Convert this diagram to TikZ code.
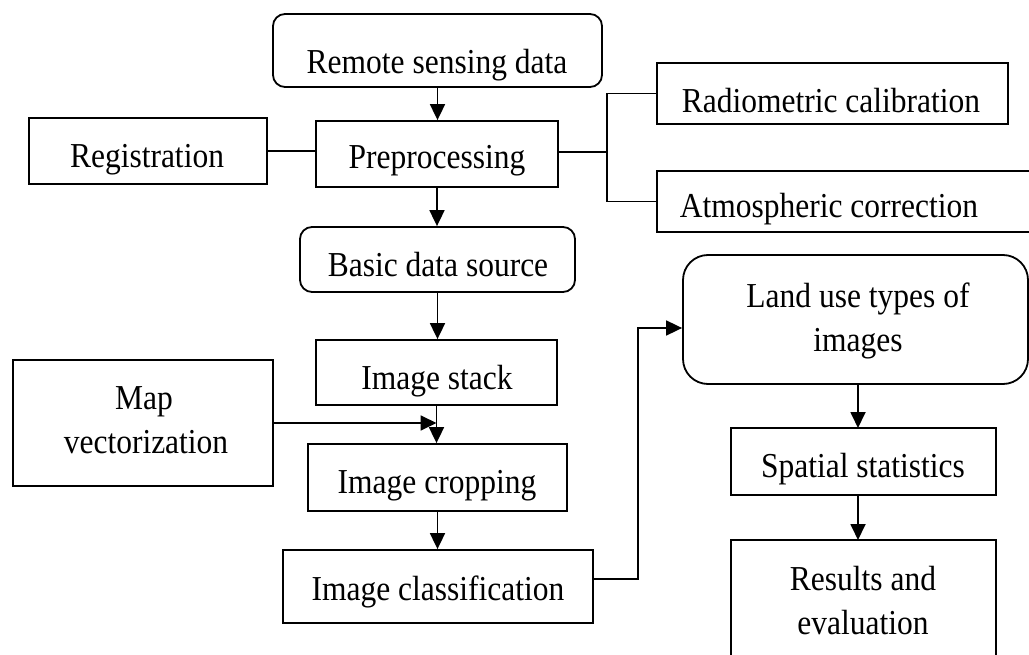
\documentclass[tikz,border=0pt]{standalone}
\usepackage{fontspec}
\setmainfont{Liberation Serif}[FakeStretch=0.9]
\usetikzlibrary{arrows.meta}
\begin{document}
\begin{tikzpicture}[x=1pt,y=-1pt,
  box/.style={draw, line width=1.8pt, inner sep=0pt},
  rbox/.style={box, rounded corners=12pt},
  txt/.style={anchor=base, inner sep=0pt, font=\fontsize{35}{40}\selectfont},
  arr/.style={line width=1.8pt, -{Triangle[length=16pt,width=15pt]}},
  con/.style={line width=1.8pt}]
\useasboundingbox (0,0) rectangle (1029,655);
\begin{scope}
\clip (0,0) rectangle (1029,655);
% boxes
\node[rbox, minimum width=329pt, minimum height=73pt] (rs) at (437.5,50.5) {};
\node[box, minimum width=242pt, minimum height=66pt] (pre) at (437,154) {};
\node[box, minimum width=238pt, minimum height=66pt] (reg) at (148,151) {};
\node[box, minimum width=351pt, minimum height=61pt] (rad) at (832.5,93.5) {};
\node[box, minimum width=403pt, minimum height=61pt] (atm) at (858.5,201.5) {};
\node[rbox, minimum width=275pt, minimum height=65pt] (bds) at (437.5,259.5) {};
\node[box, minimum width=241pt, minimum height=65pt] (stack) at (436.5,372.5) {};
\node[box, minimum width=260pt, minimum height=126pt] (map) at (143,423) {};
\node[box, minimum width=259pt, minimum height=67pt] (crop) at (437.5,477.5) {};
\node[box, minimum width=310pt, minimum height=73pt] (cls) at (438,586.5) {};
\node[box, rounded corners=25pt, minimum width=345pt, minimum height=129pt] (land) at (855.5,319.5) {};
\node[box, minimum width=265pt, minimum height=67pt] (spat) at (863.5,461.5) {};
\node[box, minimum width=265pt, minimum height=124pt] (res) at (863.5,602) {};
% texts
\node[txt] (trs) at (437,74) {Remote sensing data};
\node[txt] (tpre) at (437,169) {Preprocessing};
\node[txt] (treg) at (147,168) {Registration};
\node[txt] (trad) at (831,113) {Radiometric calibration};
\node[txt] (tatm) at (829,218) {Atmospheric correction};
\node[txt] (tbds) at (438,277) {Basic data source};
\node[txt] (tstack) at (437,389) {Image stack};
\node[txt] (tmap1) at (144,409) {Map};
\node[txt] (tmap2) at (146,453) {vectorization};
\node[txt] (tcrop) at (437,493) {Image cropping};
\node[txt] (tcls) at (438,600) {Image classification};
\node[txt] (tland1) at (858,308) {Land use types of};
\node[txt] (tland2) at (858,352) {images};
\node[txt] (tspat) at (863,477) {Spatial statistics};
\node[txt] (tres1) at (863,590) {Results and};
\node[txt] (tres2) at (863,634) {evaluation};
% connectors
\draw[arr] (rs.south) -- (rs.south |- pre.north);
\draw[arr] (pre.south) -- (pre.south |- bds.north);
\draw[arr] (bds.south) -- (bds.south |- stack.north);
\draw[arr] (stack.south) -- (stack.south |- crop.north);
\draw[arr] (crop.south) -- (crop.south |- cls.north);
\draw[arr] (map.east) -- (map.east -| stack.south);
\draw[con] (reg.east) -- (reg.east -| pre.west);
\coordinate (br) at (607,152);
\draw[con] (pre.east |- br) -- (br);
\draw[con] (rad.west) -- (rad.west -| br) -- (atm.west -| br) -- (atm.west);
\coordinate (k1) at (638,579);
\coordinate (k2) at (638,328);
\draw[arr] (cls.east |- k1) -- (k1) -- (k2) -- (land.west |- k2);
\draw[arr] (858,384) -- (858,428);
\draw[arr] (858,495) -- (858,540);
\end{scope}
\end{tikzpicture}
\end{document}
